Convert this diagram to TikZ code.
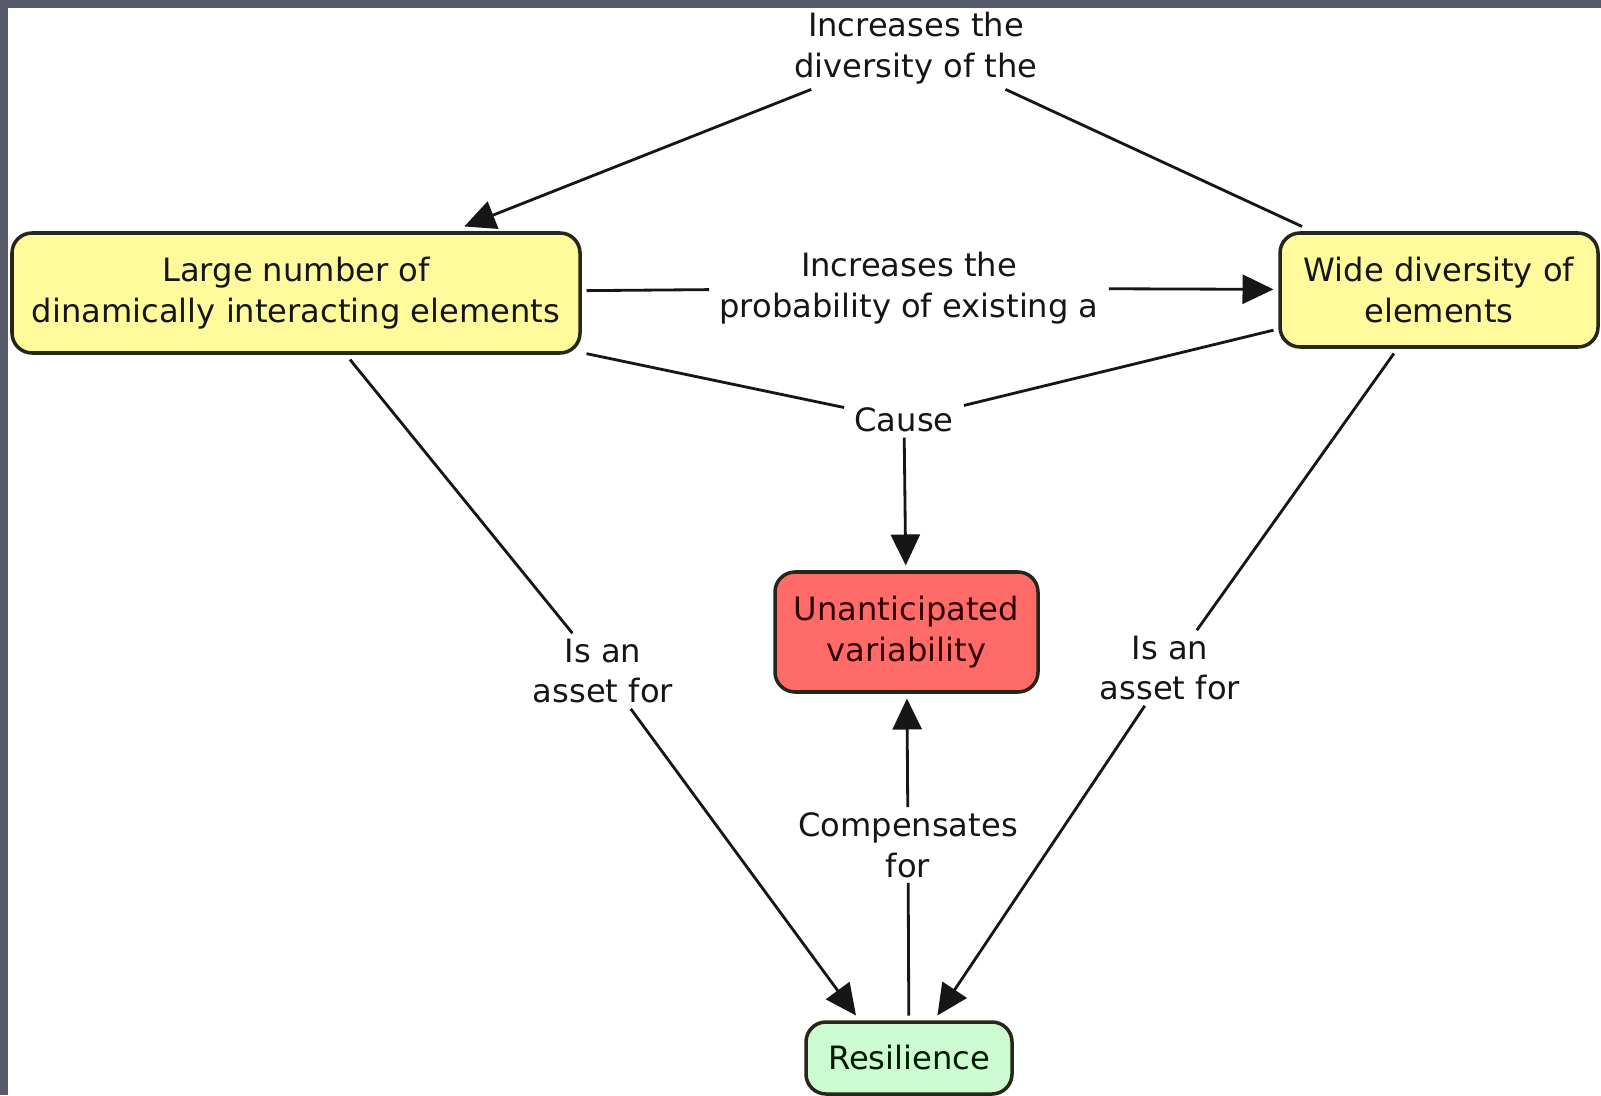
\documentclass[tikz,border=0pt]{standalone}
\usepackage{fontspec}
\setmainfont{DejaVu Sans}
\usepackage{xcolor}
\definecolor{cFrame}{HTML}{575A6B}
\definecolor{cLine}{HTML}{161616}
\definecolor{cEdge}{HTML}{26261A}
\definecolor{cYellow}{HTML}{FFFA9B}
\definecolor{cRed}{HTML}{FF6B68}
\definecolor{cGreen}{HTML}{CCFBCF}
\definecolor{cText}{HTML}{161616}
\usetikzlibrary{arrows.meta}
\tikzset{
  concept/.style={draw=cEdge,line width=2pt,rounded corners=0.4cm,
    align=center,outer sep=0.13cm,text=cText},
  concept-plain/.style={fill=cYellow},
  concept-alert/.style={fill=cRed,text=red!18!black},
  concept-good/.style={fill=cGreen,text=green!10!black},
  linkphrase/.style={align=center,inner xsep=0.2cm,inner ysep=0.1cm,text=cText},
  link/.style={draw=cLine,line width=1.6pt},
  arrow/.style={link,-{Triangle[length=0.62cm,width=0.58cm]}},
}

\begin{document}
\begin{tikzpicture}[every node/.style={font=\fontsize{18.3}{23.3}\selectfont}]
  \useasboundingbox (0,0) rectangle (32.02,21.9);
  \fill[white] (0,0) rectangle (32.02,21.9);
  % frame
  \fill[cFrame] (0,21.74) rectangle (32.02,21.9);
  \fill[cFrame] (0,0) rectangle (0.16,21.9);
  % concepts
  \node[concept,concept-plain,minimum width=11.36cm,minimum height=2.4cm]
    (elems) at (5.92,16.04) {Large number of\\dinamically interacting elements};
  \node[concept,concept-plain,minimum width=6.36cm,minimum height=2.28cm]
    (divers) at (28.78,16.10) {Wide diversity of\\elements};
  \node[concept,concept-alert,minimum width=5.26cm,minimum height=2.4cm]
    (unant) at (18.13,9.26) {Unanticipated\\variability};
  \node[concept,concept-good,minimum width=4.12cm,minimum height=1.44cm]
    (resil) at (18.18,0.74) {Resilience};
  % linking phrases
  \node[linkphrase] (ldiv) at (18.32,20.94) {Increases the\\diversity of the};
  \node[linkphrase] (lprob) at (18.18,16.14) {Increases the\\probability of existing a};
  \node[linkphrase] (lcause) at (18.08,13.5) {Cause};
  \node[linkphrase] (lassetl) at (12.06,8.48) {Is an\\asset for};
  \node[linkphrase] (lassetr) at (23.40,8.54) {Is an\\asset for};
  \node[linkphrase] (lcomp) at (18.16,5.0) {Compensates\\for};
  % connectors
  \draw[arrow] (ldiv) -- (elems);
  \draw[link] (ldiv) -- (divers);
  \draw[link] (elems) -- (lprob);
  \draw[arrow] (lprob) -- (divers);
  \draw[link] (elems) -- (lcause);
  \draw[link] (divers) -- (lcause);
  \draw[arrow] (lcause) -- (unant);
  \draw[link] (elems) -- (lassetl);
  \draw[arrow] (lassetl) -- ([xshift=-1.06cm]resil.north);
  \draw[link] (divers) -- (lassetr);
  \draw[arrow] (lassetr) -- (resil);
  \draw[link] (resil) -- (lcomp);
  \draw[arrow] (lcomp) -- (unant);
\end{tikzpicture}
\end{document}
